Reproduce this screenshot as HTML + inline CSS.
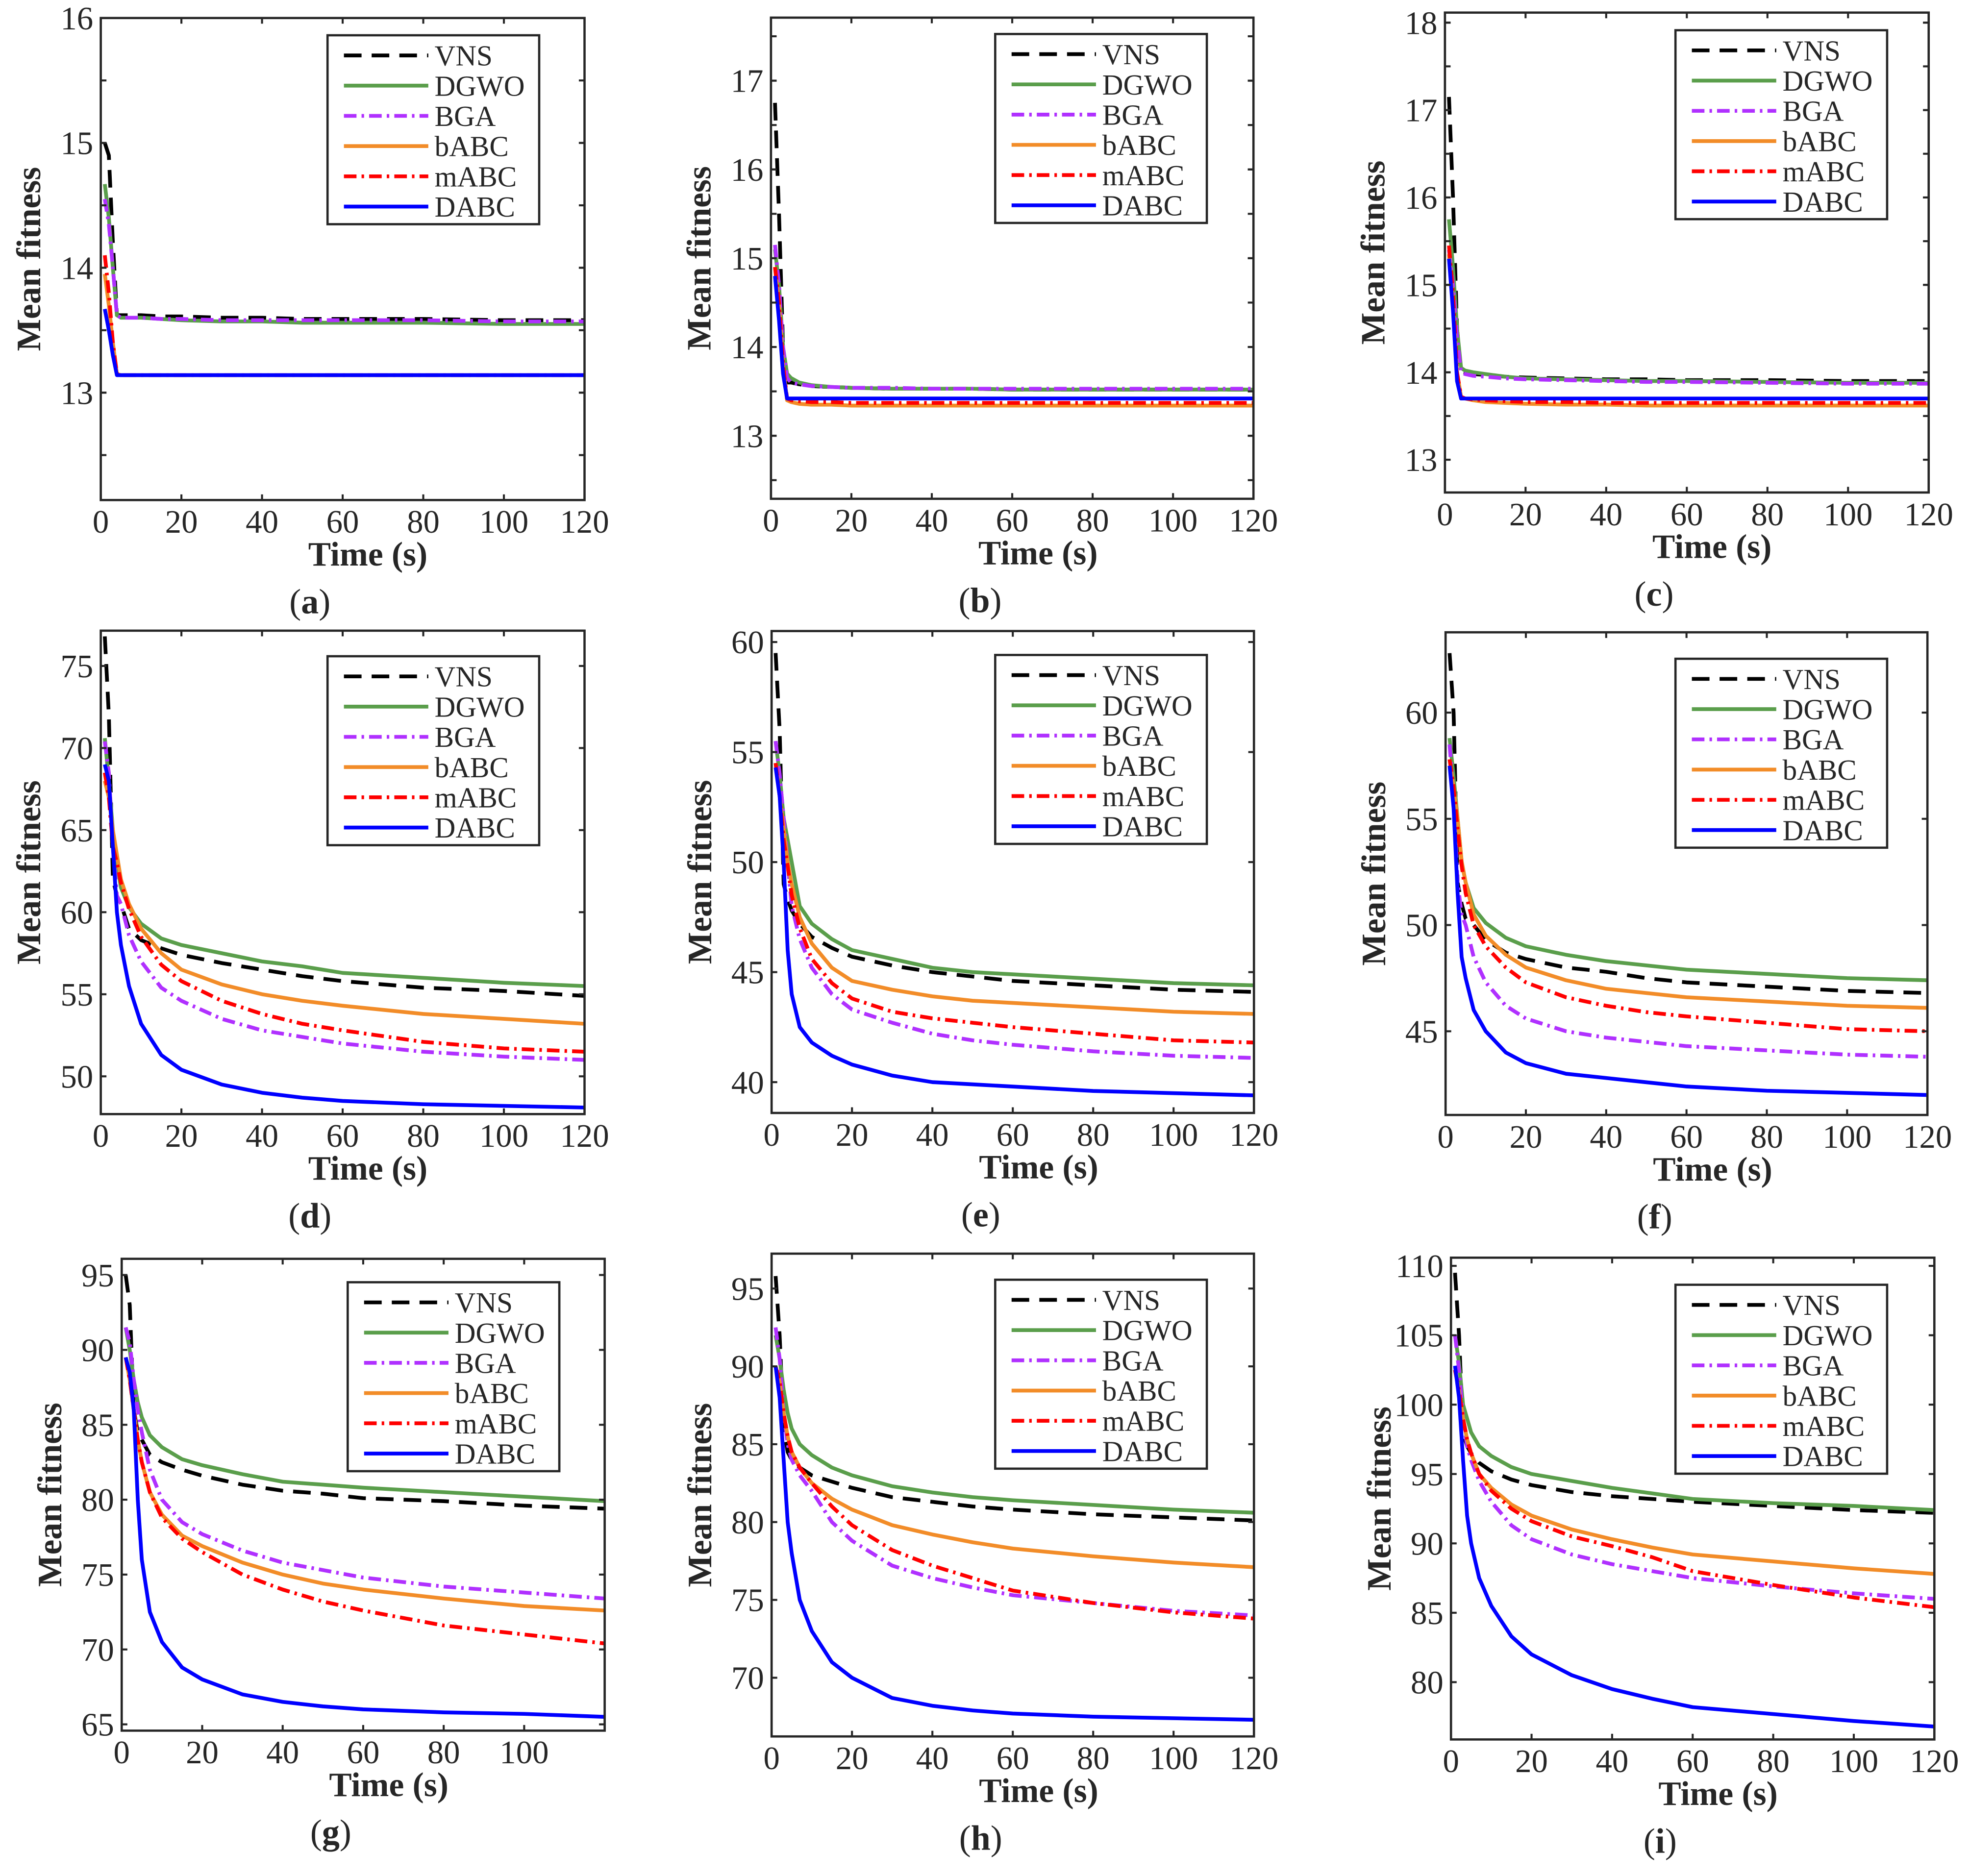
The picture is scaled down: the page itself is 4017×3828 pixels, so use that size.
<!DOCTYPE html>
<html><head><meta charset="utf-8">
<style>
html,body{margin:0;padding:0;background:#fff;}
svg{display:block;}
text{font-family:"Liberation Serif","DejaVu Serif",serif;fill:#262626;}
</style></head>
<body>
<svg id="fig" width="4017" height="3828" viewBox="0 0 1563 1489.4" preserveAspectRatio="none" xmlns="http://www.w3.org/2000/svg"></svg>
<script>
const T=[1,2,3,4,5,7,10,15,20,30,40,50,60,80,100,120];
const seriesNames=["VNS","DGWO","BGA","bABC","mABC","DABC"];
// panel a
const a_VNS=[15.0,14.9,14.2,13.62,13.62,13.62,13.62,13.61,13.61,13.6,13.6,13.59,13.59,13.59,13.58,13.58];
const a_DGWO=[14.67,14.4,14.0,13.62,13.6,13.6,13.6,13.59,13.58,13.57,13.57,13.56,13.56,13.56,13.55,13.55];
const a_BGA=[14.55,14.35,14.0,13.62,13.6,13.6,13.6,13.59,13.59,13.58,13.58,13.58,13.58,13.58,13.57,13.57];
const a_bABC=[13.95,13.7,13.4,13.15,13.14,13.14,13.14,13.14,13.14,13.14,13.14,13.14,13.14,13.14,13.14,13.14];
const a_mABC=[14.1,13.8,13.4,13.15,13.14,13.14,13.14,13.14,13.14,13.14,13.14,13.14,13.14,13.14,13.14,13.14];
const a_DABC=[13.67,13.5,13.3,13.14,13.14,13.14,13.14,13.14,13.14,13.14,13.14,13.14,13.14,13.14,13.14,13.14];
// panel b
const b_VNS=[16.75,15.5,14.0,13.6,13.6,13.58,13.56,13.55,13.54,13.53,13.53,13.53,13.52,13.52,13.52,13.52];
const b_DGWO=[15.1,14.7,14.0,13.7,13.65,13.6,13.57,13.55,13.54,13.53,13.53,13.53,13.52,13.52,13.52,13.52];
const b_BGA=[15.15,14.7,14.0,13.65,13.6,13.58,13.56,13.55,13.54,13.54,13.53,13.53,13.53,13.53,13.53,13.53];
const b_bABC=[14.9,14.5,13.8,13.4,13.38,13.36,13.35,13.35,13.34,13.34,13.34,13.34,13.34,13.34,13.34,13.34];
const b_mABC=[14.9,14.5,13.8,13.42,13.4,13.39,13.38,13.38,13.37,13.37,13.37,13.37,13.37,13.37,13.37,13.37];
const b_DABC=[14.8,14.3,13.7,13.42,13.42,13.42,13.42,13.42,13.42,13.42,13.42,13.42,13.42,13.42,13.42,13.42];
// panel c
const c_VNS=[17.15,16.0,14.5,14.02,14.0,13.98,13.97,13.95,13.94,13.93,13.92,13.92,13.91,13.91,13.9,13.9];
const c_DGWO=[15.75,15.2,14.5,14.05,14.02,14.0,13.98,13.95,13.93,13.92,13.91,13.9,13.9,13.89,13.88,13.88];
const c_BGA=[15.4,15.0,14.4,14.0,13.98,13.96,13.95,13.93,13.92,13.91,13.9,13.89,13.89,13.88,13.87,13.87];
const c_bABC=[15.35,14.8,14.0,13.72,13.7,13.68,13.66,13.65,13.64,13.63,13.63,13.62,13.62,13.62,13.62,13.62];
const c_mABC=[15.45,14.9,14.0,13.72,13.7,13.69,13.68,13.67,13.66,13.66,13.65,13.65,13.65,13.65,13.65,13.65];
const c_DABC=[15.3,14.7,13.9,13.7,13.7,13.7,13.7,13.7,13.7,13.7,13.7,13.7,13.7,13.7,13.7,13.7];
// panel d
const d_VNS=[76.8,72,62,61,60.5,59,58.3,57.8,57.4,56.9,56.5,56.1,55.8,55.4,55.2,54.9];
const d_DGWO=[70.6,68,65,63,61.5,60.3,59.3,58.4,58.0,57.5,57.0,56.7,56.3,56.0,55.7,55.5];
const d_BGA=[70.4,68.5,64,61,60.5,58.6,57.0,55.4,54.6,53.5,52.8,52.4,52.0,51.5,51.2,51.0];
const d_bABC=[68,67,65,63.5,62,60.5,59.0,57.5,56.5,55.6,55.0,54.6,54.3,53.8,53.5,53.2];
const d_mABC=[68.5,67,64,63,61.8,60.2,58.5,56.8,55.8,54.6,53.8,53.2,52.8,52.1,51.7,51.5];
const d_DABC=[69,68,64,60,58,55.5,53.2,51.3,50.4,49.5,49.0,48.7,48.5,48.3,48.2,48.1];
// panel e
const e_VNS=[59.5,56,49,48.3,47.8,47.2,46.6,46.1,45.7,45.3,45.0,44.8,44.6,44.4,44.2,44.1];
const e_DGWO=[55.5,54,52,51,50,48,47.2,46.5,46.0,45.6,45.2,45.0,44.9,44.7,44.5,44.4];
const e_BGA=[55.5,54,52,50,48,46.5,45.2,44.0,43.3,42.7,42.2,41.9,41.7,41.4,41.2,41.1];
const e_bABC=[54.5,53,51.5,50,49,47.5,46.3,45.2,44.6,44.2,43.9,43.7,43.6,43.4,43.2,43.1];
const e_mABC=[54.5,53,51,49.8,48.5,47,45.6,44.5,43.8,43.2,42.9,42.7,42.5,42.2,41.9,41.8];
const e_DABC=[54.3,53,50,46,44,42.5,41.8,41.2,40.8,40.3,40.0,39.9,39.8,39.6,39.5,39.4];
// panel f
const f_VNS=[62.8,60,52,51,50.3,50,49.3,48.7,48.4,48.0,47.8,47.5,47.3,47.1,46.9,46.8];
const f_DGWO=[58.8,57,55,53,52,50.8,50.1,49.4,49.0,48.6,48.3,48.1,47.9,47.7,47.5,47.4];
const f_BGA=[58.5,56,52,50.5,50,48.5,47.3,46.2,45.6,45.0,44.7,44.5,44.3,44.1,43.9,43.8];
const f_bABC=[57.8,56.5,55,53,52,50.5,49.5,48.6,48.0,47.4,47.0,46.8,46.6,46.4,46.2,46.1];
const f_mABC=[57.8,56.5,54.5,52.8,51.5,50,49.0,48.0,47.3,46.6,46.2,45.9,45.7,45.4,45.1,45.0];
const f_DABC=[57.5,55.5,51.5,48.5,47.5,46.0,45.0,44.0,43.5,43.0,42.8,42.6,42.4,42.2,42.1,42.0];
// panel g
const g_VNS=[95,93,86,84.5,84,83,82.5,82,81.6,81.0,80.6,80.4,80.1,79.9,79.6,79.4];
const g_DGWO=[91.5,90,88,86.5,85.5,84.3,83.5,82.7,82.3,81.7,81.2,81.0,80.8,80.5,80.2,79.9];
const g_BGA=[91.5,90.5,88,86,84.5,82,80,78.5,77.7,76.6,75.8,75.3,74.8,74.2,73.8,73.4];
const g_bABC=[89.5,88,86,84,82.5,80.5,79,77.6,76.9,75.8,75.0,74.4,74.0,73.4,72.9,72.6];
const g_mABC=[89.5,88,86,84,82.5,80.5,78.8,77.4,76.5,75.0,74.0,73.2,72.6,71.6,71.0,70.4];
const g_DABC=[89.5,88.5,86,80,76,72.5,70.5,68.8,68.0,67.0,66.5,66.2,66.0,65.8,65.7,65.5];
// panel h
const h_VNS=[95.8,92,86,84.5,84,83.5,83,82.6,82.2,81.6,81.3,81.0,80.8,80.5,80.3,80.1];
const h_DGWO=[92,90.5,88.5,87,86,85,84.3,83.5,83.0,82.3,81.9,81.6,81.4,81.1,80.8,80.6];
const h_BGA=[92.5,90.5,87,85,84,83,82,80,78.8,77.2,76.4,75.8,75.3,74.8,74.3,74.0];
const h_bABC=[90,89,87,85.5,84.5,83.5,82.5,81.5,80.8,79.8,79.2,78.7,78.3,77.8,77.4,77.1];
const h_mABC=[90,89,87,85.5,84.5,83.5,82.5,81,79.8,78.2,77.2,76.4,75.6,74.8,74.2,73.8];
const h_DABC=[90,88,84,80,78,75,73,71,70,68.7,68.2,67.9,67.7,67.5,67.4,67.3];
// panel i
const i_VNS=[109.5,105,98,97,96.5,95.8,95.2,94.6,94.2,93.7,93.4,93.2,93.0,92.7,92.4,92.2];
const i_DGWO=[105,103,100,99,98,97,96.3,95.5,95.0,94.5,94.0,93.6,93.2,92.9,92.7,92.4];
const i_BGA=[105,102.5,99,97,96,94.5,93,91.3,90.3,89.2,88.5,88.0,87.5,86.9,86.4,86.0];
const i_bABC=[102.5,101,99,97.5,96.5,95,94,92.8,92.0,91.0,90.3,89.7,89.2,88.7,88.2,87.8];
const i_mABC=[102.5,101,99,97.5,96.5,95,93.8,92.5,91.6,90.5,89.8,89.0,88.0,87.0,86.1,85.4];
const i_DABC=[102.8,100.5,96,92,90,87.5,85.5,83.3,82.0,80.5,79.5,78.8,78.2,77.7,77.2,76.8];

const a_yticks=[13,14,15,16], b_yticks=[13,14,15,16,17], c_yticks=[13,14,15,16,17,18];
const d_yticks=[50,55,60,65,70,75], e_yticks=[40,45,50,55,60], f_yticks=[45,50,55,60];
const g_yticks=[65,70,75,80,85,90,95], h_yticks=[70,75,80,85,90,95], i_yticks=[80,85,90,95,100,105,110];
const xticksFull=[0,20,40,60,80,100,120], xticksG=[0,20,40,60,80,100];

const styles={
 VNS:{c:"#000000",d:"14,8"},
 DGWO:{c:"#5a9e4b",d:""},
 BGA:{c:"#b030ff",d:"10,4,2,4"},
 bABC:{c:"#f28c28",d:""},
 mABC:{c:"#ff0000",d:"10,4,2,4"},
 DABC:{c:"#0000ff",d:""}
};

const panels=[
 {id:"a",x0:80,x1:464,y0:14.3,y1:397,ymin:12.14,ymax:16,yt:a_yticks,minor:0.5,xt:xticksFull,lx:260,ly:28,s:[a_VNS,a_DGWO,a_BGA,a_bABC,a_mABC,a_DABC]},
 {id:"b",x0:612,x1:995,y0:14,y1:396,ymin:12.29,ymax:17.71,yt:b_yticks,minor:0.5,xt:xticksFull,lx:790,ly:27,s:[b_VNS,b_DGWO,b_BGA,b_bABC,b_mABC,b_DABC]},
 {id:"c",x0:1147,x1:1531,y0:10,y1:391,ymin:12.625,ymax:18.115,yt:c_yticks,minor:0.5,xt:xticksFull,lx:1330,ly:24,s:[c_VNS,c_DGWO,c_BGA,c_bABC,c_mABC,c_DABC]},
 {id:"d",x0:80,x1:464,y0:500.7,y1:884.5,ymin:47.7,ymax:77.15,yt:d_yticks,minor:0,xt:xticksFull,lx:260,ly:521,s:[d_VNS,d_DGWO,d_BGA,d_bABC,d_mABC,d_DABC]},
 {id:"e",x0:612.5,x1:995.4,y0:501,y1:883.6,ymin:38.6,ymax:60.5,yt:e_yticks,minor:0,xt:xticksFull,lx:790,ly:520,s:[e_VNS,e_DGWO,e_BGA,e_bABC,e_mABC,e_DABC]},
 {id:"f",x0:1147.5,x1:1530,y0:502,y1:885.2,ymin:41.06,ymax:63.78,yt:f_yticks,minor:0,xt:xticksFull,lx:1330,ly:523,s:[f_VNS,f_DGWO,f_BGA,f_bABC,f_mABC,f_DABC]},
 {id:"g",x0:96.6,x1:480,y0:999.4,y1:1374,ymin:64.58,ymax:96.08,yt:g_yticks,minor:0,xt:xticksG,lx:276,ly:1018,s:[g_VNS,g_DGWO,g_BGA,g_bABC,g_mABC,g_DABC]},
 {id:"h",x0:612.5,x1:995.4,y0:995.3,y1:1378.6,ymin:66.23,ymax:97.24,yt:h_yticks,minor:0,xt:xticksFull,lx:790,ly:1016,s:[h_VNS,h_DGWO,h_BGA,h_bABC,h_mABC,h_DABC]},
 {id:"i",x0:1151.8,x1:1535.5,y0:998.5,y1:1381,ymin:75.87,ymax:110.59,yt:i_yticks,minor:0,xt:xticksFull,lx:1330,ly:1020,s:[i_VNS,i_DGWO,i_BGA,i_bABC,i_mABC,i_DABC]}
];

const NS="http://www.w3.org/2000/svg";
const svg=document.getElementById("fig");
function mk(tag,attrs,parent){const e=document.createElementNS(NS,tag);for(const k in attrs)e.setAttribute(k,attrs[k]);(parent||svg).appendChild(e);return e;}
const defs=mk("defs",{});

panels.forEach(p=>{
 const g=mk("g",{});
 
 
 const xs=v=>p.x0+(v-0)/(120-0)*(p.x1-p.x0);
 const ys=v=>p.y1-(v-p.ymin)/(p.ymax-p.ymin)*(p.y1-p.y0);
 const cp=mk("clipPath",{id:"clip-"+p.id},defs);
 mk("rect",{x:p.x0,y:p.y0,width:p.x1-p.x0,height:p.y1-p.y0},cp);
 const sg=mk("g",{"clip-path":"url(#clip-"+p.id+")"},g);
 p.s.forEach((arr,k)=>{
  const nm=seriesNames[k],st=styles[nm];
  const pts=arr.map((v,j)=>xs(T[j]).toFixed(2)+","+ys(v).toFixed(2)).join(" ");
  const pl=mk("polyline",{points:pts,fill:"none",stroke:st.c,"stroke-width":3,"stroke-linejoin":"round"},sg);
  if(st.d)pl.setAttribute("stroke-dasharray",st.d);
  
  
 });
 const box=mk("rect",{x:p.x0,y:p.y0,width:p.x1-p.x0,height:p.y1-p.y0,fill:"none",stroke:"#262626","stroke-width":1.8},g);
 
 
 xticksFull.forEach(v=>{
  const x=xs(v);
  mk("line",{x1:x,x2:x,y1:p.y1,y2:p.y1-4.5,stroke:"#262626","stroke-width":1.6},g);
  mk("line",{x1:x,x2:x,y1:p.y0,y2:p.y0+4.5,stroke:"#262626","stroke-width":1.6},g);
 });
 p.xt.forEach(v=>{
  const t=mk("text",{x:xs(v),y:p.y1+26,"text-anchor":"middle","font-size":26},g);
  t.textContent=v;
  
  
 });
 const yv=[];
 p.yt.forEach(v=>yv.push(v));
 if(p.minor){for(let v=Math.ceil(p.ymin/p.minor)*p.minor;v<p.ymax;v+=p.minor)yv.push(v);}
 yv.forEach(v=>{
  const y=ys(v);
  mk("line",{x1:p.x0,x2:p.x0+4.5,y1:y,y2:y,stroke:"#262626","stroke-width":1.6},g);
  mk("line",{x1:p.x1,x2:p.x1-4.5,y1:y,y2:y,stroke:"#262626","stroke-width":1.6},g);
 });
 p.yt.forEach(v=>{
  const t=mk("text",{x:p.x0-6,y:ys(v)+9,"text-anchor":"end","font-size":26},g);
  t.textContent=v;
  
  
 });
 const xt=mk("text",{x:p.x0+212,y:p.y1+52,"text-anchor":"middle","font-size":27,"font-weight":"bold"},g);
 xt.textContent="Time (s)";
 
 
 const cy=(p.y0+p.y1)/2, tx=p.x0-48;
 const yt=mk("text",{x:tx,y:cy,"text-anchor":"middle","font-size":27,"font-weight":"bold",transform:"rotate(-90 "+tx+" "+cy+")"},g);
 yt.textContent="Mean fitness";
 
 
 const sc=mk("text",{x:p.x0+166,y:p.y1+90,"text-anchor":"middle","font-size":28},g);
 sc.innerHTML='(<tspan font-weight="bold">'+p.id+'</tspan>)';
 
 
 const lg=mk("g",{},g);
 
 
 mk("rect",{x:p.lx,y:p.ly,width:168,height:150,fill:"#fff",stroke:"#262626","stroke-width":1.8},lg);
 seriesNames.forEach((nm,k)=>{
  const st=styles[nm],yy=p.ly+16+k*24;
  const ln=mk("line",{x1:p.lx+13,x2:p.lx+80,y1:yy,y2:yy,stroke:st.c,"stroke-width":3},lg);
  if(st.d)ln.setAttribute("stroke-dasharray",st.d);
  const tt=mk("text",{x:p.lx+85,y:yy+8,"font-size":23},lg);
  tt.textContent=nm;
  
  
 });
});
</script>
</body></html>
